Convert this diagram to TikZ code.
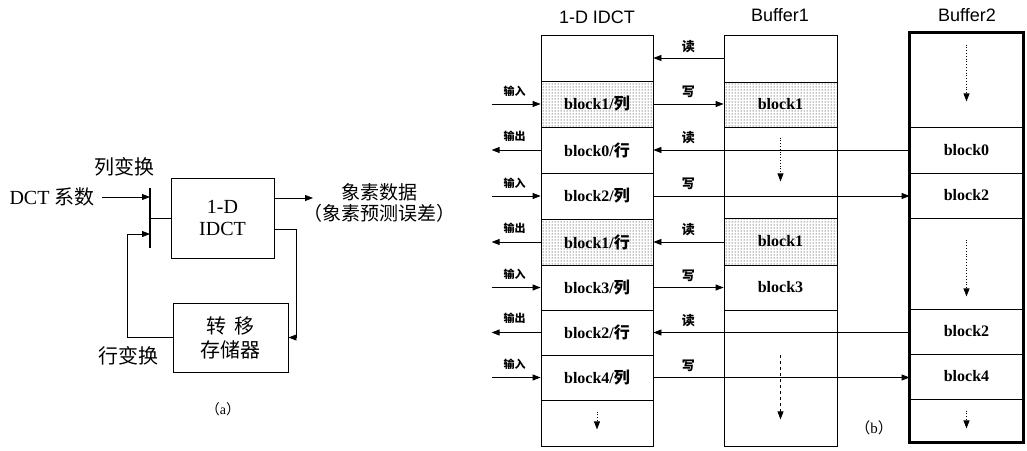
\documentclass[tikz,border=0pt]{standalone}
\usepackage{fontspec}
\setmainfont{Liberation Serif}
\setsansfont{Liberation Sans}
\newfontfamily\cjk{Noto Sans CJK SC}
\usetikzlibrary{arrows.meta,positioning,calc,patterns}

\begin{document}
\begin{tikzpicture}[x=1pt, y=-1pt,
  box/.style={draw, line width=0.9pt, inner sep=0pt},
  arr/.style={-{Triangle[length=8pt,width=6pt]}, line width=0.8pt},
  dotarr/.style={dotted, -{Triangle[length=8pt,width=6pt]}, line width=0.8pt},
  dasharr/.style={dashed, -{Triangle[length=8pt,width=6pt]}, line width=0.8pt},
  cell/.style={draw, line width=0.8pt, minimum width=112pt, inner sep=0pt,
    font=\fontsize{16}{16}\selectfont\bfseries},
  shade/.style={pattern=dots, pattern color=black},
  rw/.style={font=\cjk\fontsize{13}{13}\selectfont\bfseries},
  io/.style={font=\cjk\fontsize{11}{11}\selectfont\bfseries},
  title/.style={font=\sffamily\fontsize{18}{18}\selectfont},
  txt/.style={font=\fontsize{20}{22}\selectfont, align=center},
  zh/.style={font=\cjk\fontsize{20}{24}\selectfont, align=center}]
\useasboundingbox (0,0) rectangle (1027,450);

% (a) column / row transform loop
\node[box, txt, minimum width=103pt, minimum height=80pt] (idct) at (222.5,218) {1-D\\IDCT};
\node[box, zh, minimum width=115pt, minimum height=69pt] (store) at (230.5,337.5) {转\hspace{0.4em}移\\存储器};
\coordinate (swt) at (150,188);
\coordinate (swb) at (150,248);
\coordinate (sw) at (150,218);
\draw[line width=1.6pt] (swt) -- (swb);

\node[txt] (dct) at (52,197) {DCT {\cjk 系数}};
\node[zh] (coltr) at (124,167) {列变换};
\node[zh] (rowtr) at (128,356) {行变换};
\draw[arr] ([xshift=4pt]dct.east) -- (dct.east -| sw);
\draw[line width=0.8pt] (sw |- idct.west) -- (idct.west);

\coordinate (out) at (313,198);
\draw[arr] (idct.east |- out) -- (out);
\node[zh, font=\cjk\fontsize{19}{21}\selectfont] (pix) at (379,203) {象素数据\\（象素预测误差）};

\coordinate (fbr) at (296,229);
\coordinate (fbl) at (127,234);
\draw[arr] ([yshift=-11pt]idct.east) -| (fbr |- store.east) -- (store.east);
\draw[arr] (store.west) -| (fbl) -- (fbl -| sw);

\node[font=\fontsize{14}{14}\selectfont] (capa) at (223,409) {{\cjk （}a{\cjk ）}};

% (b) 1-D IDCT column
\node[title] (t1) at (597,17) {1-D IDCT};
\node[cell, minimum height=46pt] (c1r1) at (597,58) {};
\node[cell, shade, minimum height=46pt] (c1r2) at (597,104) {block1/{\cjk 列}};
\node[cell, minimum height=46pt] (c1r3) at (597,150) {block0/{\cjk 行}};
\node[cell, minimum height=46pt] (c1r4) at (597,196) {block2/{\cjk 列}};
\node[cell, shade, minimum height=46pt] (c1r5) at (597,242) {block1/{\cjk 行}};
\node[cell, minimum height=45pt] (c1r6) at (597,287.5) {block3/{\cjk 列}};
\node[cell, minimum height=45pt] (c1r7) at (597,332.5) {block2/{\cjk 行}};
\node[cell, minimum height=45pt] (c1r8) at (597,377.5) {block4/{\cjk 列}};
\node[cell, minimum height=46pt] (c1r9) at (597,423) {};
\draw[dotarr] ([yshift=-12pt]c1r9.north) -- ([yshift=17pt]c1r9.south);

% Buffer1
\node[title] (t2) at (780,15) {Buffer1};
\node[cell, minimum width=113pt, minimum height=47pt] (b1r1) at (780.5,58.5) {};
\node[cell, shade, minimum width=113pt, minimum height=45pt] (b1r2) at (780.5,104.5) {block1};
\node[cell, minimum width=113pt, minimum height=91pt] (b1r3) at (780.5,172.5) {};
\node[cell, shade, minimum width=113pt, minimum height=47pt] (b1r4) at (780.5,241.5) {block1};
\node[cell, minimum width=113pt, minimum height=45pt] (b1r5) at (780.5,287.5) {block3};
\node[cell, minimum width=113pt, minimum height=136pt] (b1r6) at (780.5,378) {};
\draw[dotarr] ([yshift=-11pt]b1r3.north) -- ([yshift=37pt]b1r3.south);
\draw[dasharr] ([yshift=-45pt]b1r6.north) -- ([yshift=27pt]b1r6.south);

% Buffer2
\node[title] (t3) at (967,15) {Buffer2};
\node[cell, minimum width=113pt, minimum height=94pt] (b2r1) at (966.5,80) {};
\node[cell, minimum width=113pt, minimum height=46pt] (b2r2) at (966.5,150) {block0};
\node[cell, minimum width=113pt, minimum height=45pt] (b2r3) at (966.5,195.5) {block2};
\node[cell, minimum width=113pt, minimum height=91pt] (b2r4) at (966.5,263.5) {};
\node[cell, minimum width=113pt, minimum height=45pt] (b2r5) at (966.5,331.5) {block2};
\node[cell, minimum width=113pt, minimum height=45pt] (b2r6) at (966.5,376.5) {block4};
\node[cell, minimum width=113pt, minimum height=43pt] (b2r7) at (966.5,420.5) {};
\draw[line width=2.5pt] (b2r1.north west) rectangle (b2r7.south east);
\draw[dotarr] ([yshift=-12pt]b2r1.north) -- ([yshift=26pt]b2r1.south);
\draw[dotarr] ([yshift=-22pt]b2r4.north) -- ([yshift=13pt]b2r4.south);
\draw[dotarr] ([yshift=-12pt]b2r7.north) -- ([yshift=14pt]b2r7.south);

% read / write between columns
\draw[arr] (c1r1.east -| b1r1.west) -- (c1r1.east);
\draw[arr] (c1r2.east) -- (c1r2.east -| b1r2.west);
\draw[arr] (c1r3.east -| b2r2.west) -- (c1r3.east);
\draw[arr] (c1r4.east) -- (c1r4.east -| b2r3.west);
\draw[arr] (c1r5.east -| b1r4.west) -- (c1r5.east);
\draw[arr] (c1r6.east) -- (c1r6.east -| b1r5.west);
\draw[arr] (c1r7.east -| b2r5.west) -- (c1r7.east);
\draw[arr] (c1r8.east) -- (c1r8.east -| b2r6.west);
\node[rw] (rd1) at ([xshift=35pt,yshift=11pt]c1r1.east) {读};
\node[rw] (wr2) at ([xshift=35pt,yshift=12pt]c1r2.east) {写};
\node[rw] (rd3) at ([xshift=35pt,yshift=12pt]c1r3.east) {读};
\node[rw] (wr4) at ([xshift=35pt,yshift=12pt]c1r4.east) {写};
\node[rw] (rd5) at ([xshift=35pt,yshift=12pt]c1r5.east) {读};
\node[rw] (wr6) at ([xshift=35pt,yshift=12pt]c1r6.east) {写};
\node[rw] (rd7) at ([xshift=35pt,yshift=12pt]c1r7.east) {读};
\node[rw] (wr8) at ([xshift=35pt,yshift=12pt]c1r8.east) {写};

% input / output on the left
\draw[arr] ([xshift=-49pt]c1r2.west) -- (c1r2.west);
\draw[arr] (c1r3.west) -- ([xshift=-49pt]c1r3.west);
\draw[arr] ([xshift=-49pt]c1r4.west) -- (c1r4.west);
\draw[arr] (c1r5.west) -- ([xshift=-49pt]c1r5.west);
\draw[arr] ([xshift=-49pt]c1r6.west) -- (c1r6.west);
\draw[arr] (c1r7.west) -- ([xshift=-49pt]c1r7.west);
\draw[arr] ([xshift=-49pt]c1r8.west) -- (c1r8.west);
\node[io] (in2) at ([xshift=-26pt,yshift=13pt]c1r2.west) {输入};
\node[io] (out3) at ([xshift=-26pt,yshift=14pt]c1r3.west) {输出};
\node[io] (in4) at ([xshift=-26pt,yshift=13pt]c1r4.west) {输入};
\node[io] (out5) at ([xshift=-26pt,yshift=14pt]c1r5.west) {输出};
\node[io] (in6) at ([xshift=-26pt,yshift=13pt]c1r6.west) {输入};
\node[io] (out7) at ([xshift=-26pt,yshift=14pt]c1r7.west) {输出};
\node[io] (in8) at ([xshift=-26pt,yshift=13pt]c1r8.west) {输入};

\node[font=\fontsize{15}{15}\selectfont] (capb) at (874,428) {{\cjk （}b{\cjk ）}};
\end{tikzpicture}
\end{document}
